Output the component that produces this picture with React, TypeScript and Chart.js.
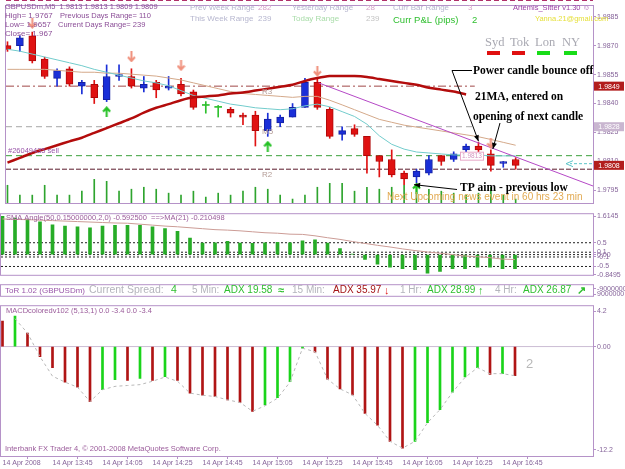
import React, { useEffect, useRef } from 'react';
import { Chart, registerables } from 'chart.js';

Chart.register(...registerables);

// ---------------- data ----------------
const TIME_TICK_BARS = [0, 4, 8, 12, 16, 20, 24, 28, 32, 36, 40];
const TIME_LABELS = [
  '14 Apr 2008', '14 Apr 13:45', '14 Apr 14:05', '14 Apr 14:25', '14 Apr 14:45', '14 Apr 15:05',
  '14 Apr 15:25', '14 Apr 15:45', '14 Apr 16:05', '14 Apr 16:25', '14 Apr 16:45',
];

const OPEN = [1.9870, 1.9870, 1.9875, 1.9863, 1.9853, 1.9858, 1.9849, 1.9850, 1.9842, 1.9854, 1.9854, 1.9848, 1.9851, 1.9848, 1.9850, 1.9846, 1.9839, 1.9838, 1.9837, 1.9834, 1.9834, 1.9826, 1.9830, 1.9833, 1.9838, 1.9851, 1.9837, 1.9824, 1.9827, 1.9823, 1.9813, 1.9811, 1.9804, 1.9802, 1.9804, 1.9813, 1.9811, 1.9816, 1.9818, 1.9814, 1.9809, 1.9811];
const HIGH = [1.9872, 1.9875, 1.9877, 1.9864, 1.9858, 1.9859, 1.9852, 1.9852, 1.9860, 1.9860, 1.9858, 1.9854, 1.9852, 1.9854, 1.9853, 1.9847, 1.9841, 1.9839, 1.9838, 1.9835, 1.9836, 1.9835, 1.9834, 1.9840, 1.9853, 1.9853, 1.9838, 1.9828, 1.9829, 1.9823, 1.9813, 1.9816, 1.9805, 1.9806, 1.9813, 1.9813, 1.9815, 1.9819, 1.9820, 1.9816, 1.9810, 1.9812];
const LOW = [1.9867, 1.9867, 1.9861, 1.9853, 1.9849, 1.9849, 1.9845, 1.9840, 1.9841, 1.9852, 1.9848, 1.9846, 1.9843, 1.9847, 1.9844, 1.9837, 1.9835, 1.9833, 1.9833, 1.9829, 1.9818, 1.9823, 1.9828, 1.9833, 1.9838, 1.9837, 1.9822, 1.9821, 1.9823, 1.9804, 1.9802, 1.9802, 1.9798, 1.9799, 1.9803, 1.9808, 1.9810, 1.9815, 1.9815, 1.9805, 1.9807, 1.9806];
const CLOSE = [1.9868, 1.9874, 1.9862, 1.9854, 1.9857, 1.9850, 1.9851, 1.9843, 1.9854, 1.9855, 1.9849, 1.9850, 1.9847, 1.9849, 1.9845, 1.9838, 1.9839, 1.9838, 1.9835, 1.9833, 1.9826, 1.9832, 1.9833, 1.9838, 1.9851, 1.9838, 1.9823, 1.9826, 1.9824, 1.9813, 1.9810, 1.9803, 1.9801, 1.9805, 1.9811, 1.9810, 1.9814, 1.9818, 1.9816, 1.9808, 1.9810, 1.9808];
const VOLUME = [9, 4, 4, 9, 4, 4, 6, 12, 11, 6, 7, 8, 7, 5, 4, 6, 3, 5, 4, 6, 8, 7, 4, 2, 4, 8, 10, 10, 6, 8, 7, 8, 9, 10, 7, 6, 5, 4, 5, 8, 4, 2];

const MA_FAST = [1.98681, 1.98671, 1.98656, 1.98641, 1.98626, 1.98611, 1.98596, 1.98577, 1.98562, 1.98547, 1.98532, 1.98517, 1.98507, 1.98492, 1.98467, 1.98442, 1.98427, 1.98412, 1.98397, 1.98388, 1.98378, 1.98373, 1.98368, 1.98373, 1.98388, 1.98397, 1.98383, 1.98358, 1.98333, 1.98293, 1.98233, 1.98189, 1.98164, 1.98149, 1.98144, 1.98139, 1.98134, 1.98134, 1.98134, 1.98129, 1.98129, 1.98129];
const MA_SLOW = [1.98577, 1.98577, 1.98577, 1.98577, 1.98572, 1.98567, 1.98562, 1.98562, 1.98557, 1.98557, 1.98552, 1.98547, 1.98542, 1.98532, 1.98522, 1.98507, 1.98492, 1.98477, 1.98462, 1.98452, 1.98447, 1.98442, 1.98437, 1.98432, 1.98437, 1.98437, 1.98417, 1.98393, 1.98368, 1.98343, 1.98318, 1.98303, 1.98288, 1.98278, 1.98268, 1.98258, 1.98248, 1.98238, 1.98228, 1.98214, 1.98199, 1.98184];
const MA_21 = [1.98094, 1.98119, 1.98144, 1.98164, 1.98184, 1.98204, 1.98223, 1.98248, 1.98273, 1.98298, 1.98323, 1.98353, 1.98378, 1.98397, 1.98417, 1.98432, 1.98437, 1.98442, 1.98452, 1.98457, 1.98467, 1.98477, 1.98487, 1.98497, 1.98517, 1.98532, 1.98542, 1.98542, 1.98542, 1.98537, 1.98527, 1.98517, 1.98507, 1.98497, 1.98482, 1.98472, 1.98462, 1.98447];

const TREND_BARS = [25.1, 47.24];
const TREND_PRICES = [1.98507, 1.97973];
const PIVOT_NAMES = ['R3', 'M5', 'R2'];
const PIVOT_PRICES = [1.9849, 1.9828, 1.9806];
const PIVOT_END_BARS = [37.7, 37.7, 47.24];
const ORDER_PRICE = 1.9813;
const DOWN_FRACTAL_BARS = [2, 10, 14, 25, 39];
const DOWN_FRACTAL_PRICES = [1.98815, 1.98641, 1.98596, 1.98567, 1.98194];
const UP_FRACTAL_BARS = [8, 21, 33];
const UP_FRACTAL_PRICES = [1.98358, 1.98179, 1.9796];
const PRICE_TICKS = [1.9885, 1.987, 1.9855, 1.984, 1.9825, 1.981, 1.9795];
const PRICE_TAGS = [1.9849, 1.9828, 1.9808];

const SMA_ANGLE = [1.61, 1.54, 1.48, 1.38, 1.25, 1.2, 1.17, 1.13, 1.2, 1.23, 1.23, 1.23, 1.17, 1.1, 0.98, 0.7, 0.48, 0.5, 0.56, 0.49, 0.47, 0.5, 0.52, 0.5, 0.58, 0.62, 0.48, 0.25, 0.02, -0.2, -0.4, -0.53, -0.59, -0.63, -0.78, -0.71, -0.59, -0.59, -0.53, -0.53, -0.59, -0.5925];
const SMA_ANGLE_MA = [1.5, 1.48, 1.47, 1.45, 1.43, 1.41, 1.39, 1.37, 1.35, 1.33, 1.32, 1.28, 1.24, 1.2, 1.17, 1.13, 1.09, 1.05, 1.03, 1.0, 0.96, 0.92, 0.9, 0.86, 0.85, 0.79, 0.71, 0.64, 0.55, 0.47, 0.39, 0.32, 0.24, 0.17, 0.11, 0.06, 0.0, -0.06, -0.09, -0.13, -0.19, -0.2105];
const SMA_LEVELS = [0.5, 0.1, 0, -0.1, -0.5];
const SMA_TICKS = [1.6145, 0.5, 0.1, 0, -0.1, -0.5, -0.8495];
const SMA_TICK_LABELS = ['1.6145', '0.5', '0.1', '0.00', '-0.1', '-0.5', '-0.8495'];

const TOR_TICKS = [-9000000, 9000000];
const TOR_TICK_LABELS = ['-9000000', '9000000'];

const MACD = [3.0, 3.6, 1.6, -1.2, -2.5, -4.2, -4.8, -6.5, -5.1, -3.9, -4.0, -3.75, -4.0, -3.55, -4.0, -5.5, -5.75, -5.9, -6.3, -6.6, -7.65, -6.9, -6.05, -4.15, -0.2, -0.65, -3.85, -5.0, -5.7, -7.9, -9.3, -11.2, -12.0, -11.2, -9.0, -7.45, -5.4, -3.6, -2.5, -3.3, -3.2, -3.45];
const MACD_SIGNAL = [null, 3.3, 1.6, -1.2, -3.5, -4.2, -4.8, -6.5, -5.1, -4.7, -4.6, -4.5, -4.1, -3.6, -4.1, -5.5, -5.75, -5.9, -6.3, -6.6, -7.65, -7.0, -6.1, -4.2, -0.2, -0.6, -3.85, -5.0, -5.7, -7.9, -9.3, -11.2, -12.0, -11.2, -9.0, -7.45, -5.4, -3.65, -2.5, -3.2, -3.2, -3.45];
const MACD_TICKS = [4.2, 0, -12.2];
const MACD_TICK_LABELS = ['4.2', '0.00', '-12.2'];

// ---------------- style ----------------
const X_MIN = -0.12;
const X_MAX = 47.24;
const FONT = '"Liberation Sans", Arial, sans-serif';
const SERIF = '"Liberation Serif", "Times New Roman", serif';
const BORDER = '#b592c8';
const AXIS_TEXT = '#86649a';
const PURPLE_TEXT = '#8a4c96';
const BULL = '#1a2fd8';
const BEAR = '#e01212';
const DOJI = '#2ec02e';

Chart.defaults.font.family = FONT;

function txt(ctx: any, s: string, x: number, y: number, size: number, color: string, o: any = {}) {
  ctx.font = `${o.bold ? 'bold ' : ''}${size}px ${o.family || FONT}`;
  ctx.fillStyle = color;
  ctx.textAlign = o.align || 'left';
  ctx.textBaseline = 'middle';
  ctx.fillText(s, x, y);
}

function frame(chart: any) {
  const { ctx, chartArea: a } = chart;
  ctx.save();
  ctx.strokeStyle = BORDER;
  ctx.lineWidth = 1;
  ctx.strokeRect(a.left - 0.5, a.top - 0.5, a.right - a.left + 1, a.bottom - a.top + 1);
  ctx.restore();
}

function arrowLine(ctx: any, x0: number, y0: number, x1: number, y1: number) {
  ctx.beginPath();
  ctx.moveTo(x0, y0);
  ctx.lineTo(x1, y1);
  ctx.stroke();
  const ang = Math.atan2(y1 - y0, x1 - x0);
  const L = 6, H = 2.5;
  ctx.beginPath();
  ctx.moveTo(x1, y1);
  ctx.lineTo(x1 - L * Math.cos(ang) + H * Math.sin(ang), y1 - L * Math.sin(ang) - H * Math.cos(ang));
  ctx.lineTo(x1 - L * Math.cos(ang) - H * Math.sin(ang), y1 - L * Math.sin(ang) + H * Math.cos(ang));
  ctx.closePath();
  ctx.fill();
}

function makeArrow(color: string, up: boolean) {
  const c = document.createElement('canvas');
  c.width = 9;
  c.height = 11;
  const g = c.getContext('2d') as CanvasRenderingContext2D;
  g.strokeStyle = color;
  g.lineWidth = 2;
  g.beginPath();
  if (up) {
    g.moveTo(4.5, 11); g.lineTo(4.5, 1.5);
    g.moveTo(1, 5.5); g.lineTo(4.5, 1.5); g.lineTo(8, 5.5);
  } else {
    g.moveTo(4.5, 0); g.lineTo(4.5, 9.5);
    g.moveTo(1, 5.5); g.lineTo(4.5, 9.5); g.lineTo(8, 5.5);
  }
  g.stroke();
  return c;
}

function xHidden() {
  return { type: 'linear', min: X_MIN, max: X_MAX, display: false, offset: false };
}

function rightAxis(min: number, max: number, ticks: number[], labels: string[], extra: any = {}) {
  return {
    type: 'linear',
    position: 'right',
    min,
    max,
    afterFit: (s: any) => { s.width = 32; },
    afterBuildTicks: (s: any) => { s.ticks = ticks.map((v) => ({ value: v })); },
    ticks: {
      autoSkip: false,
      padding: 1,
      color: AXIS_TEXT,
      font: { size: 7, family: FONT },
      callback: (_v: any, i: number) => labels[i],
    },
    grid: { drawOnChartArea: false, drawTicks: true, tickLength: 3, color: BORDER },
    border: { display: true, color: BORDER },
    ...extra,
  };
}

const baseOptions = (padding: any) => ({
  responsive: false,
  animation: false,
  events: [],
  layout: { padding },
  plugins: { legend: { display: false }, tooltip: { enabled: false } },
});

const candleColor = (i: number) => (CLOSE[i] > OPEN[i] ? BULL : CLOSE[i] < OPEN[i] ? BEAR : DOJI);
const candleBorder = (i: number) => (CLOSE[i] > OPEN[i] ? '#1420a0' : CLOSE[i] < OPEN[i] ? '#b00808' : DOJI);

export default function App() {
  const r1 = useRef<HTMLCanvasElement>(null);
  const r2 = useRef<HTMLCanvasElement>(null);
  const r3 = useRef<HTMLCanvasElement>(null);
  const r4 = useRef<HTMLCanvasElement>(null);

  useEffect(() => {
    const charts: any[] = [];
    const downArrow = makeArrow('#f0907c', false);
    const upArrow = makeArrow('#22c022', true);

    // ---------- main price panel ----------
    const mainOverlay = {
      id: 'mainOverlay',
      afterDraw(chart: any) {
        const { ctx, chartArea: a, scales } = chart;
        const y = scales.y, x = scales.x;
        frame(chart);
        ctx.save();
        ctx.strokeStyle = '#b0306a';
        ctx.setLineDash([5, 3]);
        ctx.beginPath(); ctx.moveTo(a.left, 0.5); ctx.lineTo(a.right, 0.5); ctx.stroke();
        ctx.setLineDash([]);

        txt(ctx, 'GBPUSDm,M5  1.9813 1.9813 1.9809 1.9809', 5, 7, 7.5, PURPLE_TEXT);
        txt(ctx, 'High= 1.9767', 5, 16, 8, PURPLE_TEXT);
        txt(ctx, 'Previous Days Range= 110', 60, 16, 7.5, PURPLE_TEXT);
        txt(ctx, 'Low= 1.9657', 5, 25, 8, PURPLE_TEXT);
        txt(ctx, 'Current Days Range= 239', 58, 25, 7.5, PURPLE_TEXT);
        txt(ctx, 'Close= 1.967', 5, 34, 8, PURPLE_TEXT);

        txt(ctx, 'Prev Week Range', 190, 8, 8, '#b6b6cf');
        txt(ctx, '282', 258, 8, 8, '#d6a2c8');
        txt(ctx, 'This Week Range', 190, 19, 8, '#b6b6cf');
        txt(ctx, '239', 258, 19, 8, '#b6b6cf');
        txt(ctx, 'Yesterday Range', 292, 8, 8, '#b6b6cf');
        txt(ctx, '28', 366, 8, 8, '#d6a2c8');
        txt(ctx, 'Today Range', 292, 19, 8, '#a8dca8');
        txt(ctx, '239', 366, 19, 8, '#c4c4c4');
        txt(ctx, 'Curr Bar Range', 393, 8, 8, '#b6b6cf');
        txt(ctx, '3', 468, 8, 8, '#d6a2c8');
        txt(ctx, 'Curr P&L (pips)', 393, 20, 9.5, '#2fbf2f');
        txt(ctx, '2', 472, 20, 9.5, '#2fbf2f');
        txt(ctx, 'Artemis_Sitter v1.30 \u263A', 513, 8, 7.5, '#9a3fa4');
        txt(ctx, 'Yanna.21@gmail.com', 535, 19, 7.5, '#e6e03c');

        const sessions = ['Syd', 'Tok', 'Lon', 'NY'];
        const sessX = [485, 510, 535, 562];
        const sessCol = ['#e01010', '#e01010', '#18dc18', '#18dc18'];
        sessions.forEach((s, i) => {
          txt(ctx, s, sessX[i], 43, 12.5, '#a9a9b2', { family: SERIF });
          ctx.fillStyle = sessCol[i];
          ctx.fillRect(sessX[i] + 2, 51, 13, 4);
        });

        PIVOT_NAMES.forEach((n, i) => {
          txt(ctx, n, 262, y.getPixelForValue(PIVOT_PRICES[i]) + 5.5, 8, '#b49c96');
        });
        const oy = y.getPixelForValue(ORDER_PRICE);
        txt(ctx, '#26049435 sell', 8, oy - 5, 7.5, '#9a56aa');
        ctx.strokeStyle = '#e8a8c8';
        ctx.fillStyle = '#ffffff';
        ctx.fillRect(460.5, oy - 3.5, 23, 8);
        ctx.strokeRect(460.5, oy - 3.5, 23, 8);
        txt(ctx, '1.9813', 472, oy + 0.5, 6.5, '#d496c0', { align: 'center' });
        ctx.strokeStyle = '#5cc4c8';
        ctx.fillStyle = '#5cc4c8';
        ctx.setLineDash([3, 2]);
        ctx.beginPath(); ctx.moveTo(592, oy + 8); ctx.lineTo(570, oy + 8); ctx.stroke();
        ctx.setLineDash([]);
        ctx.beginPath(); ctx.moveTo(566, oy + 8); ctx.lineTo(573, oy + 5); ctx.moveTo(566, oy + 8); ctx.lineTo(573, oy + 11); ctx.stroke();

        txt(ctx, 'Next Upcoming news event in 60 hrs 23 min', 387, 197, 10, '#e2aa52');

        ctx.strokeStyle = '#000';
        ctx.fillStyle = '#000';
        ctx.lineWidth = 1;
        txt(ctx, 'Power candle bounce off', 473, 71, 11.5, '#000', { bold: true, family: SERIF });
        txt(ctx, '21MA, entered on', 475, 97, 11.5, '#000', { bold: true, family: SERIF });
        txt(ctx, 'opening of next candle', 473, 117, 11.5, '#000', { bold: true, family: SERIF });
        txt(ctx, 'TP aim - previous low', 460, 188, 11.5, '#000', { bold: true, family: SERIF });
        ctx.strokeStyle = '#000';
        ctx.fillStyle = '#000';
        ctx.beginPath(); ctx.moveTo(452, 70.5); ctx.lineTo(472, 70.5); ctx.stroke();
        arrowLine(ctx, 452, 70.5, x.getPixelForValue(38), y.getPixelForValue(HIGH[38]) - 1);
        arrowLine(ctx, 500, 123, x.getPixelForValue(39) + 2, y.getPixelForValue(HIGH[39]) - 1);
        arrowLine(ctx, 457, 189.5, x.getPixelForValue(32) + 10, y.getPixelForValue(LOW[32]));

        const tagBg = ['#b21d1d', '#c9b6d0', '#b21d1d'];
        PRICE_TAGS.forEach((p, i) => {
          const py = y.getPixelForValue(p);
          ctx.fillStyle = tagBg[i];
          ctx.fillRect(594, py - 4.5, 30, 9);
          txt(ctx, p.toFixed(4), 609, py + 0.5, 7, '#ffffff', { align: 'center' });
        });
        ctx.restore();
      },
    };

    const hline = (price: number, x0: number, x1: number, color: string, dash: number[], order: number) => ({
      type: 'line',
      data: [{ x: x0, y: price }, { x: x1, y: price }],
      borderColor: color,
      borderWidth: 1,
      borderDash: dash,
      pointRadius: 0,
      order,
    });

    charts.push(new Chart(r1.current as HTMLCanvasElement, {
      type: 'bar',
      data: {
        datasets: [
          {
            type: 'bar', yAxisID: 'yv',
            data: VOLUME.map((v, i) => ({ x: i, y: v })),
            backgroundColor: '#2ea42e', barThickness: 1, grouped: false, order: 20,
          },
          hline(PIVOT_PRICES[0], X_MIN, PIVOT_END_BARS[0], '#a04848', [8, 3, 2, 3], 19),
          hline(PIVOT_PRICES[1], X_MIN, PIVOT_END_BARS[1], '#a8a8a8', [6, 4], 19),
          hline(PIVOT_PRICES[2], X_MIN, PIVOT_END_BARS[2], '#5a1a2a', [5, 2], 19),
          hline(ORDER_PRICE, X_MIN, X_MAX, '#3aa03a', [6, 4], 19),
          {
            type: 'bar',
            data: LOW.map((l, i) => ({ x: i, y: [l, HIGH[i]] })),
            backgroundColor: LOW.map((_, i) => candleColor(i)),
            barThickness: 1, grouped: false, order: 15,
          },
          {
            type: 'bar',
            data: OPEN.map((o, i) => ({ x: i, y: [o, CLOSE[i]] })),
            backgroundColor: OPEN.map((_, i) => candleColor(i)),
            borderColor: OPEN.map((_, i) => candleBorder(i)),
            borderWidth: OPEN.map((o, i) => (o === CLOSE[i] ? 0 : 1)),
            borderSkipped: false,
            barThickness: 7, minBarLength: 1, grouped: false, order: 14,
          },
          {
            type: 'line', data: MA_SLOW.map((v, i) => ({ x: i, y: v })),
            borderColor: '#d4a98a', borderWidth: 1, pointRadius: 0, order: 10,
          },
          {
            type: 'line', data: MA_FAST.map((v, i) => ({ x: i, y: v })),
            borderColor: '#72cccc', borderWidth: 1, pointRadius: 0, order: 9,
          },
          {
            type: 'line', data: MA_21.map((v, i) => ({ x: i, y: v })),
            borderColor: '#b30c0c', borderWidth: 2.5, pointRadius: 0, tension: 0.3, order: 8,
          },
          {
            type: 'line', data: TREND_BARS.map((b, i) => ({ x: b, y: TREND_PRICES[i] })),
            borderColor: '#b548c6', borderWidth: 1, pointRadius: 0, order: 7,
          },
          {
            type: 'scatter', data: DOWN_FRACTAL_BARS.map((b, i) => ({ x: b, y: DOWN_FRACTAL_PRICES[i] })),
            pointStyle: downArrow, pointRadius: 5, order: 1,
          },
          {
            type: 'scatter', data: UP_FRACTAL_BARS.map((b, i) => ({ x: b, y: UP_FRACTAL_PRICES[i] })),
            pointStyle: upArrow, pointRadius: 5, order: 1,
          },
        ],
      } as any,
      options: {
        ...baseOptions({ top: 2, bottom: 2, left: 1, right: 0 }),
        scales: {
          x: xHidden(),
          y: rightAxis(1.97885, 1.98905, PRICE_TICKS, PRICE_TICKS.map((v) => v.toFixed(4))),
          yv: { type: 'linear', display: false, min: 0, max: 100 },
        },
      } as any,
      plugins: [mainOverlay],
    }));

    // ---------- SMA angle panel ----------
    charts.push(new Chart(r2.current as HTMLCanvasElement, {
      type: 'bar',
      data: {
        datasets: [
          ...SMA_LEVELS.map((lv) => ({
            type: 'line', data: [{ x: X_MIN, y: lv }, { x: X_MAX, y: lv }],
            borderColor: '#222', borderWidth: 1, borderDash: [2, 2], pointRadius: 0, order: 5,
          })),
          {
            type: 'bar', data: SMA_ANGLE.map((v, i) => ({ x: i, y: v })),
            backgroundColor: '#27ac27', barThickness: 3, grouped: false, order: 3,
          },
          {
            type: 'line', data: SMA_ANGLE_MA.map((v, i) => ({ x: i, y: v })),
            borderColor: '#cc9c96', borderWidth: 1, pointRadius: 0, order: 1,
          },
        ],
      } as any,
      options: {
        ...baseOptions({ top: 1, bottom: 3, left: 1, right: 0 }),
        scales: {
          x: xHidden(),
          y: rightAxis(-0.85, 1.7, SMA_TICKS, SMA_TICK_LABELS),
        },
      } as any,
      plugins: [{
        id: 'smaOverlay',
        afterDraw(chart: any) {
          frame(chart);
          const ctx = chart.ctx;
          ctx.save();
          txt(ctx, 'SMA Angle(50,0.15000000,2,0) -0.592500  ==>MA(21) -0.210498', 6, 9, 7.5, '#9a5a9a');
          ctx.restore();
        },
      }],
    }));

    // ---------- ToR panel ----------
    charts.push(new Chart(r3.current as HTMLCanvasElement, {
      type: 'line',
      data: { datasets: [] },
      options: {
        ...baseOptions({ top: 1, bottom: 2, left: 1, right: 0 }),
        scales: {
          x: xHidden(),
          y: rightAxis(-21000000, 15000000, TOR_TICKS, TOR_TICK_LABELS, { reverse: true }),
        },
      } as any,
      plugins: [{
        id: 'torOverlay',
        afterDraw(chart: any) {
          frame(chart);
          const ctx = chart.ctx;
          ctx.save();
          const ty = 10.5;
          const gray = '#b4b4bc', green = '#2fbf2f';
          txt(ctx, 'ToR 1.02 (GBPUSDm)', 5, ty, 8, '#9a56aa');
          txt(ctx, 'Current Spread:', 89, ty, 10.5, gray);
          txt(ctx, '4', 171, ty, 10.5, green);
          txt(ctx, '5 Min:', 192, ty, 10, gray);
          txt(ctx, 'ADX 19.58', 224, ty, 10, green);
          txt(ctx, '\u2248', 278, ty, 11, green, { bold: true });
          txt(ctx, '15 Min:', 292, ty, 10, gray);
          txt(ctx, 'ADX 35.97', 333, ty, 10, '#a41414');
          txt(ctx, '\u2193', 384, ty, 11, '#e02020', { bold: true });
          txt(ctx, '1 Hr:', 400, ty, 10, gray);
          txt(ctx, 'ADX 28.99', 427, ty, 10, green);
          txt(ctx, '\u2191', 478, ty, 11, green, { bold: true });
          txt(ctx, '4 Hr:', 495, ty, 10, gray);
          txt(ctx, 'ADX 26.87', 523, ty, 10, green);
          txt(ctx, '\u2197', 577, ty, 11, green, { bold: true });
          ctx.restore();
        },
      }],
    }));

    // ---------- MACD panel ----------
    charts.push(new Chart(r4.current as HTMLCanvasElement, {
      type: 'bar',
      data: {
        datasets: [
          {
            type: 'line', data: [{ x: X_MIN, y: 0 }, { x: X_MAX, y: 0 }],
            borderColor: '#cbbcd4', borderWidth: 1, pointRadius: 0, order: 9,
          },
          {
            type: 'bar', data: MACD.map((v, i) => ({ x: i, y: v })),
            backgroundColor: MACD.map((v, i) => (i > 0 && v > MACD[i - 1] ? '#1ad41a' : '#b01414')),
            barThickness: 2, grouped: false, order: 5,
          },
          {
            type: 'line', data: MACD_SIGNAL.map((v, i) => ({ x: i, y: v })),
            borderColor: '#b8b8b8', borderWidth: 1, borderDash: [3, 3], pointRadius: 0, order: 1,
          },
        ],
      } as any,
      options: {
        ...baseOptions({ top: 1, bottom: 0, left: 1, right: 0 }),
        scales: {
          x: {
            type: 'linear', min: X_MIN, max: X_MAX, offset: false, position: 'bottom',
            afterFit: (s: any) => { s.height = 13; },
            afterBuildTicks: (s: any) => { s.ticks = TIME_TICK_BARS.map((v) => ({ value: v })); },
            ticks: {
              autoSkip: false, maxRotation: 0, minRotation: 0, align: 'start', padding: 0,
              color: AXIS_TEXT, font: { size: 7, family: FONT },
              callback: (_v: any, i: number) => TIME_LABELS[i],
            },
            grid: { drawOnChartArea: false, drawTicks: true, tickLength: 3, color: BORDER },
            border: { display: true, color: BORDER },
          },
          y: rightAxis(-12.93, 4.77, MACD_TICKS, MACD_TICK_LABELS),
        },
      } as any,
      plugins: [{
        id: 'macdOverlay',
        afterDraw(chart: any) {
          frame(chart);
          const ctx = chart.ctx;
          ctx.save();
          txt(ctx, 'MACDcoloredv102 (5,13,1) 0.0 -3.4 0.0 -3.4', 6, 10, 7.5, '#9a5a9a');
          txt(ctx, 'Interbank FX Trader 4, \u00A9 2001-2008 MetaQuotes Software Corp.', 5, 148, 7.5, '#9a5a9a');
          txt(ctx, '2', 526, 63, 13, '#b8b8b8');
          ctx.restore();
        },
      }],
    }));

    return () => { charts.forEach((c) => c.destroy()); };
  }, []);

  const cv = (top: number, h: number) => ({ position: 'absolute' as const, left: 0, top, width: 625, height: h });

  return (
    <div style={{ position: 'fixed', left: 0, top: 0, width: 625, height: 469, background: '#fff', overflow: 'hidden' }}>
      <canvas ref={r1} width={625} height={209} style={cv(0, 209)} />
      <canvas ref={r2} width={625} height={71} style={cv(209, 71)} />
      <canvas ref={r3} width={625} height={21} style={cv(280, 21)} />
      <canvas ref={r4} width={625} height={168} style={cv(301, 168)} />
    </div>
  );
}
